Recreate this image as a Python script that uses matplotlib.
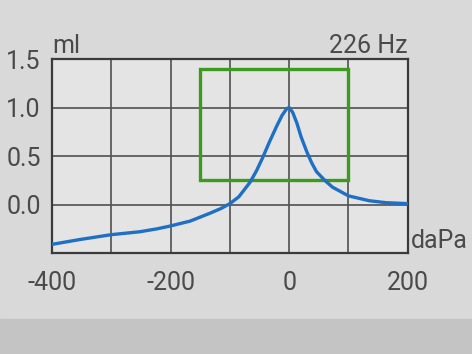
import matplotlib
matplotlib.use("Agg")
import matplotlib.pyplot as plt
from matplotlib.patches import Rectangle

plt.rcParams["font.family"] = ["Roboto", "DejaVu Sans"]

# Curva del timpanograma (presion en daPa, volumen en ml)
presion = [-400, -353, -300, -252, -223, -200, -167, -134, -115, -100, -85, -66, -55,
           -45, -33, -21, -12, -4, 0, 6, 13, 20, 30, 38, 46, 60, 73, 100, 135, 163, 200]
volumen = [-0.41, -0.36, -0.31, -0.28, -0.25, -0.22, -0.17, -0.09, -0.04, 0.01, 0.08, 0.23, 0.35,
           0.48, 0.65, 0.81, 0.92, 0.99, 1.0, 0.95, 0.84, 0.70, 0.54, 0.43, 0.34, 0.25, 0.18,
           0.09, 0.04, 0.02, 0.01]

# Caja de normalidad
caja_x = [-150, 100]
caja_y = [0.25, 1.4]

xticks = [-400, -200, 0, 200]
yticks = [0.0, 0.5, 1.0, 1.5]

gris_texto = "#4a4a4a"

fig = plt.figure(figsize=(4.72, 3.54), dpi=100, facecolor="#d9d9d9")
fig.patches.append(Rectangle((0, 0), 1, 0.10, transform=fig.transFigure,
                             color="#c4c4c4", zorder=0))
ax = fig.add_axes([0.110, 0.285, 0.754, 0.548])
ax.set_facecolor("#e4e4e4")

ax.set_xlim(-400, 200)
ax.set_ylim(-0.5, 1.5)
ax.set_xticks(xticks)
ax.set_xticks(range(-400, 201, 100), minor=True)
ax.set_yticks(yticks)
ax.set_yticks([-0.5, 0.0, 0.5, 1.0, 1.5], minor=True)
ax.set_xticklabels([str(v) for v in xticks])
ax.set_yticklabels([f"{v:.1f}" for v in yticks])
ax.tick_params(which="both", length=0, labelsize=18, colors=gris_texto)
ax.tick_params(axis="x", pad=13)
ax.tick_params(axis="y", pad=8)
ax.grid(which="both", color="#505050", linewidth=1.2)
for s in ax.spines.values():
    s.set_color("#3a3a3a")
    s.set_linewidth(1.6)

ax.add_patch(Rectangle((caja_x[0], caja_y[0]), caja_x[1] - caja_x[0], caja_y[1] - caja_y[0],
                       fill=False, edgecolor="#3c9a1e", linewidth=2.4, zorder=3))
ax.plot(presion, volumen, color="#1f6fc4", linewidth=2.4, zorder=4)

ax.text(0.0, 1.005, "ml", transform=ax.transAxes, fontsize=18, color=gris_texto,
        ha="left", va="bottom")
ax.text(1.0, 1.005, "226 Hz", transform=ax.transAxes, fontsize=18, color=gris_texto,
        ha="right", va="bottom")
ax.text(1.01, 0.0, "daPa", transform=ax.transAxes, fontsize=18, color=gris_texto,
        ha="left", va="bottom")

fig.savefig("out.png", dpi=100, facecolor=fig.get_facecolor())
